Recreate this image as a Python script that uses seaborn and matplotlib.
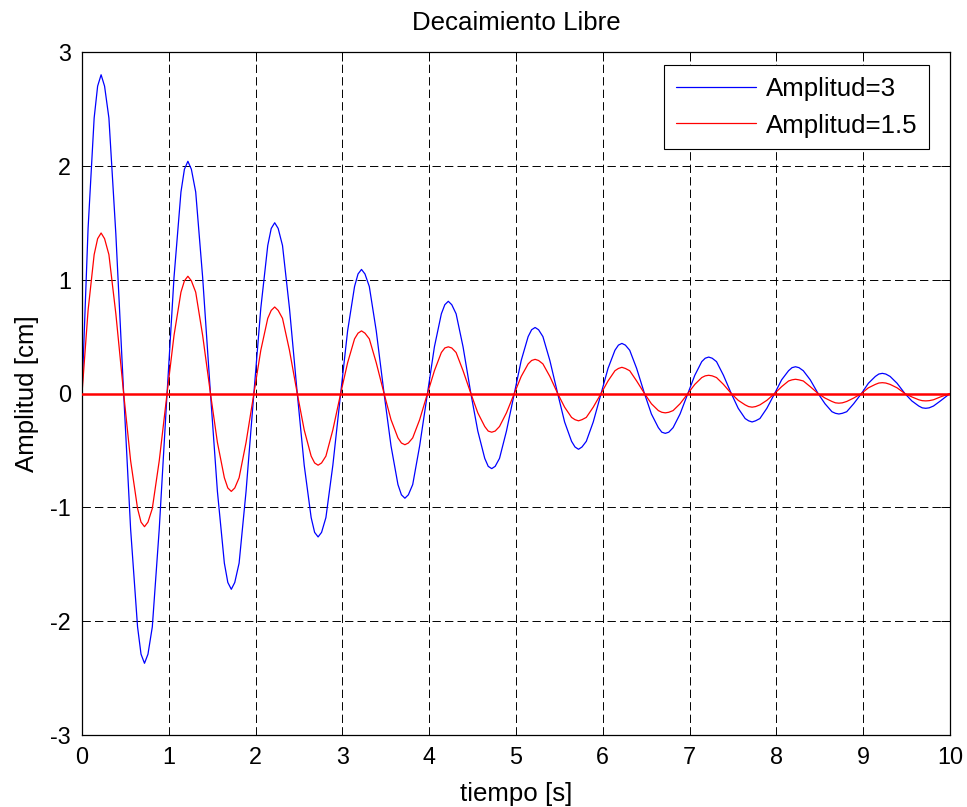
import matplotlib
matplotlib.use("Agg")
import matplotlib.pyplot as plt
import seaborn as sns

# valores (tiempo en s, amplitud en cm)
tiempo = [0.00, 0.07, 0.14, 0.18, 0.22, 0.26, 0.31, 0.39, 0.48, 0.56, 0.64, 0.68, 0.72, 0.76, 0.81, 0.89,
          0.98, 1.06, 1.14, 1.18, 1.22, 1.26, 1.31, 1.39, 1.48, 1.56, 1.64, 1.68, 1.72, 1.76, 1.81, 1.89,
          1.98, 2.06, 2.14, 2.18, 2.22, 2.26, 2.31, 2.39, 2.48, 2.56, 2.64, 2.68, 2.72, 2.76, 2.81, 2.89,
          2.98, 3.06, 3.14, 3.18, 3.22, 3.26, 3.31, 3.39, 3.48, 3.56, 3.64, 3.68, 3.72, 3.76, 3.81, 3.89,
          3.98, 4.06, 4.14, 4.18, 4.22, 4.26, 4.31, 4.39, 4.48, 4.56, 4.64, 4.68, 4.72, 4.76, 4.81, 4.89,
          4.98, 5.06, 5.14, 5.18, 5.22, 5.26, 5.31, 5.39, 5.48, 5.56, 5.64, 5.68, 5.72, 5.76, 5.81, 5.89,
          5.98, 6.06, 6.14, 6.18, 6.22, 6.26, 6.31, 6.39, 6.48, 6.56, 6.64, 6.68, 6.72, 6.76, 6.81, 6.89,
          6.98, 7.06, 7.14, 7.18, 7.22, 7.26, 7.31, 7.39, 7.48, 7.56, 7.64, 7.68, 7.72, 7.76, 7.81, 7.89,
          7.98, 8.06, 8.14, 8.18, 8.22, 8.26, 8.31, 8.39, 8.48, 8.56, 8.64, 8.68, 8.72, 8.76, 8.81, 8.89,
          8.98, 9.06, 9.14, 9.18, 9.22, 9.26, 9.31, 9.39, 9.48, 9.56, 9.64, 9.68, 9.72, 9.76, 9.81, 9.89,
          10.00]

amp_3 = [0, 1.45, 2.42, 2.70, 2.80, 2.70, 2.42, 1.40, 0, -1.19, -2.05, -2.29, -2.37, -2.29, -2.05, -1.19,
         0, 1.02, 1.77, 1.97, 2.04, 1.97, 1.77, 1.02, 0, -0.86, -1.49, -1.66, -1.72, -1.66, -1.49, -0.86,
         0, 0.75, 1.30, 1.45, 1.50, 1.45, 1.30, 0.75, 0, -0.63, -1.09, -1.22, -1.26, -1.22, -1.09, -0.63,
         0, 0.55, 0.94, 1.05, 1.09, 1.05, 0.94, 0.55, 0, -0.46, -0.80, -0.89, -0.92, -0.89, -0.80, -0.46,
         0, 0.41, 0.70, 0.78, 0.81, 0.78, 0.70, 0.41, 0, -0.33, -0.57, -0.64, -0.66, -0.64, -0.57, -0.33,
         0, 0.29, 0.50, 0.56, 0.58, 0.56, 0.50, 0.29, 0, -0.25, -0.42, -0.47, -0.49, -0.47, -0.42, -0.25,
         0, 0.22, 0.38, 0.425, 0.44, 0.425, 0.38, 0.22, 0, -0.18, -0.30, -0.34, -0.35, -0.34, -0.30, -0.18,
         0, 0.16, 0.28, 0.31, 0.32, 0.31, 0.28, 0.16, 0, -0.13, -0.22, -0.24, -0.25, -0.24, -0.22, -0.13,
         0, 0.12, 0.20, 0.227, 0.235, 0.227, 0.20, 0.12, 0, -0.09, -0.16, -0.174, -0.18, -0.174, -0.16, -0.09,
         0, 0.09, 0.15, 0.171, 0.177, 0.171, 0.15, 0.09, 0, -0.065, -0.11, -0.126, -0.13, -0.126, -0.11, -0.065,
         0]

amp_15 = [0, 0.73, 1.22, 1.36, 1.41, 1.36, 1.22, 0.70, 0, -0.59, -1.01, -1.13, -1.17, -1.13, -1.01, -0.59,
          0, 0.51, 0.89, 0.99, 1.03, 0.99, 0.89, 0.51, 0, -0.43, -0.74, -0.83, -0.86, -0.83, -0.74, -0.43,
          0, 0.38, 0.66, 0.73, 0.76, 0.73, 0.66, 0.38, 0, -0.32, -0.55, -0.61, -0.63, -0.61, -0.55, -0.32,
          0, 0.27, 0.48, 0.53, 0.55, 0.53, 0.48, 0.27, 0, -0.23, -0.39, -0.435, -0.45, -0.435, -0.39, -0.23,
          0, 0.20, 0.36, 0.40, 0.41, 0.40, 0.36, 0.20, 0, -0.17, -0.29, -0.33, -0.34, -0.33, -0.29, -0.17,
          0, 0.15, 0.26, 0.29, 0.30, 0.29, 0.26, 0.15, 0, -0.12, -0.21, -0.23, -0.24, -0.23, -0.21, -0.12,
          0, 0.11, 0.20, 0.22, 0.23, 0.22, 0.20, 0.11, 0, -0.09, -0.15, -0.165, -0.17, -0.165, -0.15, -0.09,
          0, 0.08, 0.14, 0.155, 0.16, 0.155, 0.14, 0.08, 0, -0.06, -0.10, -0.115, -0.12, -0.115, -0.10, -0.06,
          0, 0.06, 0.11, 0.12, 0.125, 0.12, 0.11, 0.06, 0, -0.04, -0.07, -0.082, -0.085, -0.082, -0.07, -0.04,
          0, 0.05, 0.08, 0.092, 0.095, 0.092, 0.08, 0.05, 0, -0.03, -0.055, -0.063, -0.065, -0.063, -0.055, -0.03,
          0]

xticks = list(range(0, 11))
yticks = [-3, -2, -1, 0, 1, 2, 3]

sns.set_style("white")
plt.rcParams['font.family'] = ['Liberation Sans', 'DejaVu Sans']
plt.rcParams['axes.unicode_minus'] = False
plt.rcParams['lines.scale_dashes'] = False
plt.rcParams['text.color'] = 'black'
plt.rcParams['axes.labelcolor'] = 'black'

fig = plt.figure(figsize=(9.67, 8.07), dpi=100)
ax = fig.add_axes([82 / 967, 72 / 807, 868 / 967, 683 / 807])

sns.lineplot(x=tiempo, y=amp_3, ax=ax, color=(0, 0, 1), lw=0.9, sort=False,
             estimator=None, label='Amplitud=3')
sns.lineplot(x=tiempo, y=amp_15, ax=ax, color=(1, 0, 0), lw=0.9, sort=False,
             estimator=None, label='Amplitud=1.5')
ax.axhline(0, color=(1, 0, 0), lw=1.8, zorder=3)

ax.set_xlim(0, 10)
ax.set_ylim(-3, 3)
ax.set_xticks(xticks)
ax.set_yticks(yticks)
ax.grid(True, color='black', linestyle=(0, (6, 3)), lw=0.7)
ax.tick_params(direction='in', top=True, right=True, length=6.5, width=0.7,
               labelsize=16.8, pad=8, colors='black')
for s in ax.spines.values():
    s.set_color('black')
    s.set_linewidth(0.9)

ax.set_title('Decaimiento Libre', fontsize=18.6, pad=16, color='black')
ax.set_xlabel('tiempo [s]', fontsize=18.6, labelpad=9)
ax.set_ylabel('Amplitud [cm]', fontsize=18.6, labelpad=8)

leg = ax.legend(loc='upper right', bbox_to_anchor=(0.9758, 0.981), borderaxespad=0,
                fontsize=18.6, handlelength=3.1, handletextpad=0.39, borderpad=0.45,
                labelspacing=0.5, fancybox=False, framealpha=1, edgecolor='black')
leg.get_frame().set_linewidth(0.8)
for t in leg.get_texts():
    t.set_color('black')

fig.savefig('out.png', dpi=100)
